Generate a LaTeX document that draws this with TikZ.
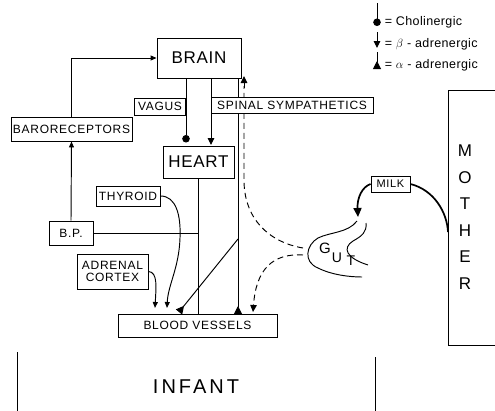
\documentclass[tikz,border=0pt]{standalone}
\usepackage{fontspec}
\setmainfont{Liberation Sans}
\newfontfamily\labfont[LetterSpace=6]{Liberation Sans}
\newfontfamily\legfont[LetterSpace=3]{Liberation Sans}
\newfontfamily\bigfont[LetterSpace=4]{Liberation Sans}
\newfontfamily\infantfont[LetterSpace=15]{Liberation Sans}
\usetikzlibrary{arrows.meta,calc}
\begin{document}
\begin{tikzpicture}[x=1pt,y=-1pt,
  line width=0.95pt,
  box/.style={draw,fill=white,inner sep=0pt,line width=0.95pt},
  lab/.style={font=\labfont\fontsize{12}{14}\selectfont},
  big/.style={font=\bigfont\fontsize{17}{20}\selectfont},
  leg/.style={anchor=west,font=\legfont\fontsize{12.5}{14}\selectfont},
  cholin/.style={-{Circle[length=7.5pt]}},
  beta/.style={-{Triangle[length=7pt,width=6.5pt]}},
  alpha/.style={-{Triangle[reversed,length=8pt,width=8pt]}},
  small/.style={-{Triangle[length=6pt,width=5pt]}},
  dsh/.style={dash pattern=on 6pt off 4pt},
  thick2/.style={line width=1.7pt}]
\useasboundingbox (0,0) rectangle (495,410);

% legend
\coordinate (l1a) at (377,3);  \coordinate (l1b) at (377,26);
\coordinate (l2a) at (377,32); \coordinate (l2b) at (377,48);
\coordinate (l3a) at (377,52); \coordinate (l3b) at (377,69);
\draw[cholin] (l1a) -- (l1b);
\draw[beta] (l2a) -- (l2b);
\draw[alpha] (l3a) -- (l3b);
\node[leg] (t1) at (381,22) {= Cholinergic};
\node[leg] (t2) at (381,44) {= $\beta$ - adrenergic};
\node[leg] (t3) at (381,65) {= $\alpha$ - adrenergic};

% lines behind label boxes
\draw[cholin] (186,78) -- (186,142.5);
\draw[beta] (211,78) -- (211,145);
\draw[alpha] (238,78) -- (238,314);
\draw[dsh] (303,248) .. controls (268,242) and (244,218) .. (244,180) -- (244,86);
\draw[beta] (244,88) -- (244,76);

\node[box,minimum width=84pt,minimum height=40pt,big] (brain) at (199,58) {BRAIN};
\node[box,minimum width=71pt,minimum height=32pt,big] (heart) at (198.5,162) {HEART};
\node[box,minimum width=121pt,minimum height=24pt,lab] (baro) at (71.5,129) {BARORECEPTORS};
\node[box,minimum width=51pt,minimum height=17pt,lab] (vagus) at (160,106.5) {VAGUS};
\node[box,minimum width=162pt,minimum height=16pt,lab] (spinal) at (292,105) {SPINAL SYMPATHETICS};
\node[box,minimum width=64pt,minimum height=20pt,lab] (thyroid) at (128,196) {THYROID};
\node[box,minimum width=44pt,minimum height=24pt,lab] (bp) at (71,233) {B.P.};
\node[box,minimum width=71pt,minimum height=35pt,lab,align=center] (adrenal) at (112.5,271.5) {ADRENAL\\[-2pt]CORTEX};
\node[box,minimum width=159pt,minimum height=23pt,lab] (blood) at (197.5,325.5) {BLOOD VESSELS};
\node[box,minimum width=39pt,minimum height=16pt,lab,font=\labfont\fontsize{11}{13}\selectfont] (milk) at (390.5,184) {MILK};

% connectors
\draw[small] (baro.north) |- (brain.west);
\draw[small] (bp.north) -- (baro.south);
\draw (heart.south) -- (heart.south |- blood.north);
\draw (bp.east) -- (bp.east -| heart.south);
\draw[alpha] (238,239) -- (179,312);
\draw[small] (thyroid.east) .. controls (176,196) and (181,215) .. (180,238) .. controls (179,268) and (168,285) .. (167,308);
\draw[small] (adrenal.east) .. controls (158,272) and (156,288) .. (155,308);
\draw[dsh,beta] (303,255) .. controls (272,253) and (256,270) .. (253,312);

% gut
\draw (357,221) .. controls (348,233) and (330,232) .. (318,238) .. controls (306,245) and (303,262) .. (318,268) .. controls (332,275) and (350,277) .. (362,277);
\draw (366,223) .. controls (367,232) and (362,236) .. (353,241) .. controls (342,248) and (346,258) .. (368,265);
\node[font=\fontsize{15}{17}\selectfont] (gG) at (325,248) {G};
\node[font=\fontsize{14}{16}\selectfont] (gU) at (337,258) {U};
\node[font=\fontsize{14}{16}\selectfont] (gT) at (351,261) {T};

% milk arrows
\draw[thick2,-{Triangle[length=9pt,width=8pt]}] (milk.west) .. controls (362,187) and (357,198) .. (358,217);
\coordinate (mothin) at (448,232);
\draw[thick2] (milk.east) .. controls (434,190) and (447,212) .. (mothin);

% mother
\draw (496,90) -- (448,90) -- (448,345) -- (496,345);
\node[align=center,font=\fontsize{17}{26.5}\selectfont] (mother) at (465,217) {M\\O\\T\\H\\E\\R};

% infant
\draw (17,352) -- (17,411);
\draw (375,357) -- (375,411);
\node[font=\infantfont\fontsize{20}{24}\selectfont] (infant) at (196,387) {INFANT};
\end{tikzpicture}
\end{document}
